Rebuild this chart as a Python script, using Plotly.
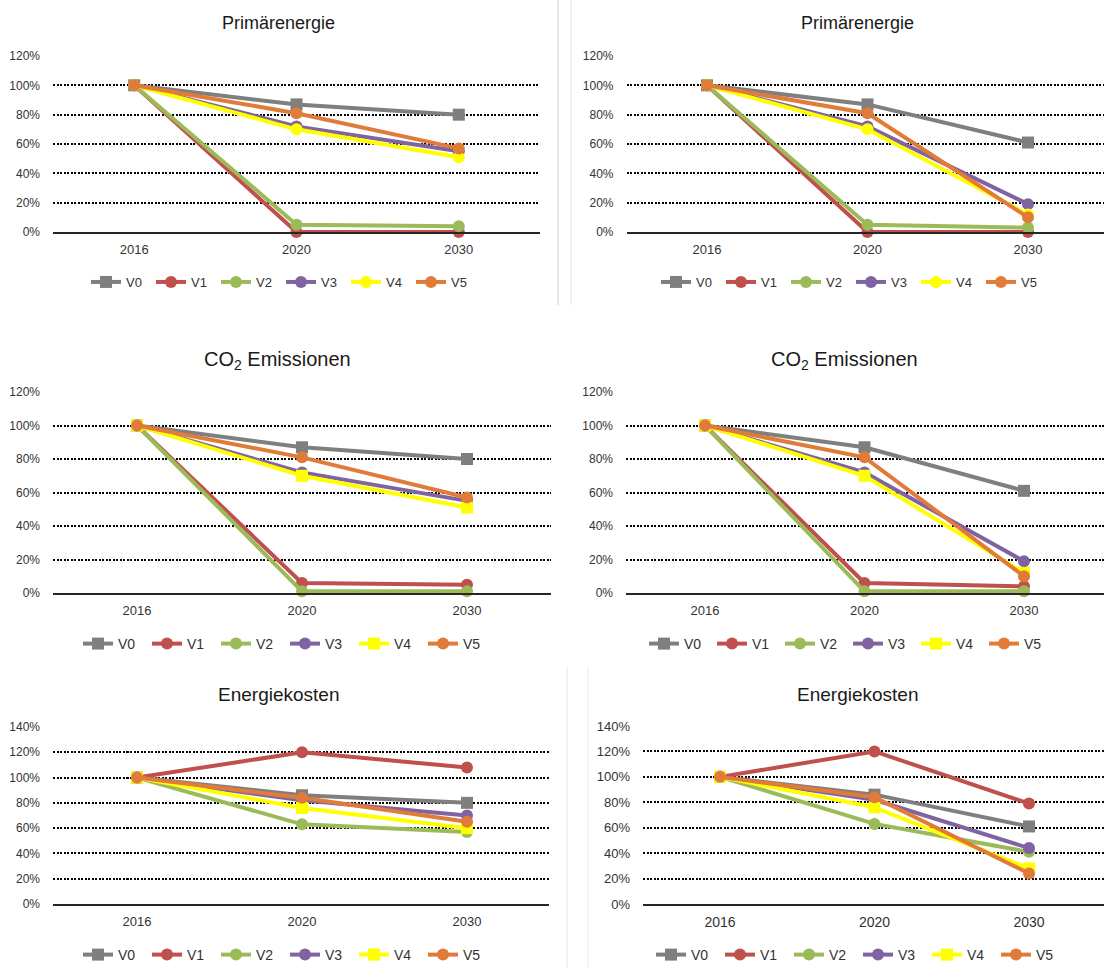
import plotly.graph_objects as go

# ---- data -----------------------------------------------------------------
jahre = ["2016", "2020", "2030"]
varianten = ["V0", "V1", "V2", "V3", "V4", "V5"]
farben = ["#7F7F7F", "#C0504D", "#9BBB59", "#8064A2", "#FFFF00", "#E07B39"]

# values in percent of 2016, one row per variant V0..V5
primaer_links = [
    [100, 87, 80],
    [100, 0, 0],
    [100, 5, 4],
    [100, 72, 55],
    [100, 70, 51],
    [100, 81, 57],
]
primaer_rechts = [
    [100, 87, 61],
    [100, 0, 0],
    [100, 5, 3],
    [100, 72, 19],
    [100, 70, 12],
    [100, 81, 10],
]
co2_links = [
    [100, 87, 80],
    [100, 6, 5],
    [100, 1, 1],
    [100, 72, 55],
    [100, 70, 51],
    [100, 81, 57],
]
co2_rechts = [
    [100, 87, 61],
    [100, 6, 4],
    [100, 1, 1],
    [100, 72, 19],
    [100, 70, 12],
    [100, 81, 10],
]
kosten_links = [
    [100, 86, 80],
    [100, 120, 108],
    [100, 63, 57],
    [100, 82, 70],
    [100, 76, 60],
    [100, 84, 65],
]
kosten_rechts = [
    [100, 86, 61],
    [100, 120, 79],
    [100, 63, 41],
    [100, 82, 44],
    [100, 76, 28],
    [100, 84, 24],
]

# ---- layout helpers ---------------------------------------------------------
W, H = 1104, 968
FONT = "Liberation Sans, Arial, sans-serif"
TXT = "#333333"


def px_x(x):
    return x / W


def px_y(y):
    return 1 - y / H


panels = [
    dict(title="Primärenergie", data=primaer_links, ymax=120,
         x0=53, x1=540, c0=134.2, step=162.3, ytop=56, ybot=232,
         tx=278, ty=23, tsize=18, lx=281, ly=282, lw=20, lsize=13,
         tick=12, xtick=13, sq4=False),
    dict(title="Primärenergie", data=primaer_rechts, ymax=120,
         x0=626.5, x1=1104, c0=707, step=160.5, ytop=56, ybot=232,
         tx=857, ty=23, tsize=18, lx=851, ly=282, lw=20, lsize=13,
         tick=12, xtick=13, sq4=False),
    dict(title="CO<sub>2</sub> Emissionen", data=co2_links, ymax=120,
         x0=53, x1=551, c0=137, step=165, ytop=392, ybot=593,
         tx=277, ty=360, tsize=20, lx=285, ly=644, lw=24, lsize=14,
         tick=12, xtick=13, sq4=True),
    dict(title="CO<sub>2</sub> Emissionen", data=co2_rechts, ymax=120,
         x0=626, x1=1104, c0=705, step=159.5, ytop=392, ybot=593,
         tx=844, ty=360, tsize=20, lx=848, ly=644, lw=23, lsize=14,
         tick=12, xtick=13, sq4=True),
    dict(title="Energiekosten", data=kosten_links, ymax=140,
         x0=53, x1=549, c0=137, step=165, ytop=727, ybot=904,
         tx=278, ty=694, tsize=19, lx=285, ly=955, lw=24, lsize=14,
         tick=12, xtick=13, sq4=True),
    dict(title="Energiekosten", data=kosten_rechts, ymax=140,
         x0=643, x1=1104, c0=720, step=154.5, ytop=726, ybot=904,
         tx=857, ty=694, tsize=19, lx=858, ly=955, lw=24, lsize=14,
         tick=13, xtick=14, sq4=True),
]

fig = go.Figure()
layout = {}
annotations = []

for i, p in enumerate(panels, start=1):
    sfx = "" if i == 1 else str(i)
    xref, yref = "x" + sfx, "y" + sfx
    legend_name = "legend" + sfx

    for k, name in enumerate(varianten):
        if k == 0 or (k == 4 and p["sq4"]):
            symbol = "square"
        else:
            symbol = "circle"
        fig.add_trace(go.Scatter(
            x=jahre, y=p["data"][k], name=name, mode="lines+markers",
            line=dict(color=farben[k], width=4),
            marker=dict(color=farben[k], size=12, symbol=symbol),
            xaxis=xref, yaxis=yref, legend=legend_name,
            cliponaxis=False, hoverinfo="x+y+name",
        ))

    r0 = (p["x0"] - p["c0"]) / p["step"]
    r1 = (p["x1"] - p["c0"]) / p["step"]
    layout["xaxis" + sfx] = dict(
        domain=[px_x(p["x0"]), px_x(p["x1"])],
        anchor=yref, type="category", range=[r0, r1],
        showgrid=False, zeroline=False,
        showline=True, linecolor="#262626", linewidth=2,
        ticks="", ticklabelstandoff=4, automargin=False,
        tickfont=dict(family=FONT, size=p["xtick"], color=TXT),
        fixedrange=True,
    )
    layout["yaxis" + sfx] = dict(
        domain=[px_y(p["ybot"]), px_y(p["ytop"])],
        anchor=xref, range=[0, p["ymax"]], dtick=20, ticksuffix="%",
        showgrid=True, gridcolor="#000000", gridwidth=2, griddash="2px,1.5px",
        zeroline=False, showline=False, ticks="", ticklabelstandoff=12,
        automargin=False,
        tickfont=dict(family=FONT, size=p["tick"], color=TXT),
        fixedrange=True,
    )
    layout[legend_name] = dict(
        orientation="h", x=px_x(p["lx"]), xanchor="center",
        y=px_y(p["ly"]), yanchor="middle",
        entrywidth=p["lw"], bgcolor="rgba(0,0,0,0)",
        font=dict(family=FONT, size=p["lsize"], color=TXT),
        tracegroupgap=0,
    )
    annotations.append(dict(
        text=p["title"], xref="paper", yref="paper",
        x=px_x(p["tx"]), y=px_y(p["ty"]), xanchor="center", yanchor="middle",
        showarrow=False, font=dict(family=FONT, size=p["tsize"], color="#1a1a1a"),
    ))

# thin separators between the pasted chart areas
separators = [
    (558, 0, 305, "#CFCFCF"),
    (571, 0, 305, "#E3E3E3"),
    (567, 667, 968, "#E6E6E6"),
    (588, 667, 968, "#ECECEC"),
]
shapes = [
    dict(type="line", xref="paper", yref="paper",
         x0=px_x(x), x1=px_x(x), y0=px_y(y0), y1=px_y(y1),
         line=dict(color=c, width=1), layer="below")
    for x, y0, y1, c in separators
]

fig.update_layout(
    width=W, height=H,
    margin=dict(l=0, r=0, t=0, b=0, autoexpand=False),
    paper_bgcolor="#FFFFFF", plot_bgcolor="rgba(0,0,0,0)",
    showlegend=True,
    annotations=annotations,
    shapes=shapes,
    **layout,
)

fig.write_html("out.html")
